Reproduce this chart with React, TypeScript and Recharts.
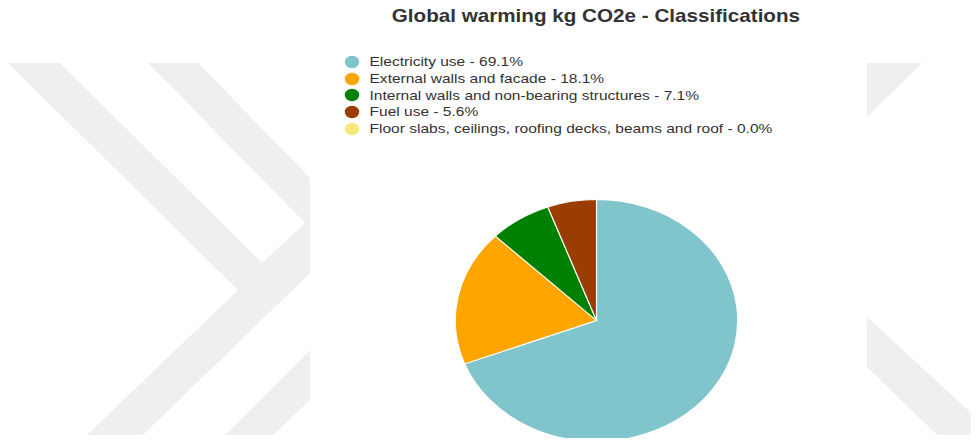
import React from 'react';
import { PieChart, Pie, Cell, Legend } from 'recharts';

// chart values
const classNames = [
  'Electricity use',
  'External walls and facade',
  'Internal walls and non-bearing structures',
  'Fuel use',
  'Floor slabs, ceilings, roofing decks, beams and roof',
];
const sharePct = [69.1, 18.1, 7.1, 5.6, 0.0];
const sliceColors = ['#80c4cc', '#ffa500', '#008000', '#993d00', '#f5e77a'];

const chartTitle = 'Global warming kg CO2e - Classifications';

// the source picture is stretched sideways a bit
const STRETCH = 1.167;
const FONT = 'Arial, "Liberation Sans", Helvetica, sans-serif';

const legendLabel = (i: number) => `${classNames[i]} - ${sharePct[i].toFixed(1)}%`;

const renderLegend = (props: any) => {
  const { payload = [] } = props;
  // keep the data order (recharts sorts legend items by default)
  const items = [...payload].sort(
    (a: any, b: any) => classNames.indexOf(a?.payload?.name) - classNames.indexOf(b?.payload?.name)
  );
  return (
    <ul style={{ listStyle: 'none', margin: 0, padding: 0 }}>
      {items.map((entry: any, i: number) => (
        <li key={i} style={{ display: 'flex', alignItems: 'center', height: 16.7 }}>
          <svg width={16} height={14} style={{ marginRight: 7 }}>
            <circle cx={8} cy={7} r={6.2} fill={entry.color} />
          </svg>
          <span style={{ color: '#333' }}>{entry.value}</span>
        </li>
      ))}
    </ul>
  );
};

// faint background watermark
const Watermark = () => (
  <svg width={979} height={446} style={{ position: 'absolute', left: 0, top: 0 }}>
    <g fill="#efefef">
      <polygon points="8,63 60,63 262,263 305,223 148,63 198,63 310,178 310,273 143,435 87,435 238,290" />
      <polygon points="310,350 310,400 273,435 225,435" />
      <polygon points="867,63 922,63 867,117" />
      <polygon points="867,317 979,420 979,435 937,435 867,367" />
    </g>
  </svg>
);

export default function App() {
  const data = classNames.map((name, i) => ({
    name,
    value: sharePct[i],
    label: legendLabel(i),
  }));

  return (
    <div style={{ position: 'relative', width: 979, height: 446, margin: -8, background: '#fff', overflow: 'hidden' }}>
      <Watermark />
      <div
        style={{
          position: 'absolute',
          left: 310,
          top: 0,
          width: 480,
          height: 446,
          transform: `scaleX(${STRETCH})`,
          transformOrigin: '0 0',
          fontFamily: FONT,
        }}
      >
        <div
          style={{
            position: 'absolute',
            left: 5,
            width: 480,
            top: 6,
            textAlign: 'center',
            fontSize: 17.7,
            fontWeight: 'bold',
            color: '#333',
          }}
        >
          {chartTitle}
        </div>
        <PieChart width={480} height={446} margin={{ top: 0, right: 0, bottom: 0, left: 0 }}>
          <Pie
            data={data}
            dataKey="value"
            nameKey="label"
            cx={245.5}
            cy={320.5}
            outerRadius={121}
            startAngle={90}
            endAngle={-270}
            stroke="#fff"
            strokeWidth={1}
            isAnimationActive={false}
          >
            {data.map((d, i) => (
              <Cell key={d.name} fill={sliceColors[i]} />
            ))}
          </Pie>
          <Legend
            layout="vertical"
            align="center"
            verticalAlign="middle"
            itemSorter={null as any}
            content={renderLegend}
            wrapperStyle={{ top: 53.5, left: 28, width: 420, fontSize: 13.3, fontFamily: FONT }}
          />
        </PieChart>
      </div>
    </div>
  );
}
